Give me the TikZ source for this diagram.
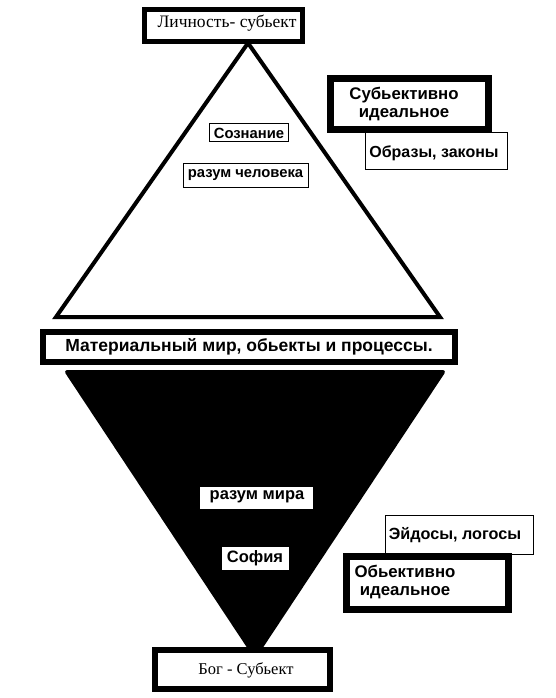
\documentclass[tikz,border=0pt]{standalone}
\usepackage{fontspec}
\setmainfont{Liberation Sans}
\newfontfamily\serifcyr{Liberation Serif}
\begin{document}
\begin{tikzpicture}[x=1pt,y=-1pt,
  thickbox/.style={draw, line width=#1, fill=white, inner sep=0pt},
  thickbox/.default=6pt,
  thinbox/.style={draw, line width=1pt, fill=white, inner sep=0pt},
  whitebox/.style={fill=white, inner sep=0pt},
  lbl/.style={font=\bfseries\fontsize{#1}{#1}\selectfont, align=center, inner sep=0pt},
  lbl/.default=15,
  serlbl/.style={font=\serifcyr\fontsize{#1}{#1}\selectfont, inner sep=0pt},
  serlbl/.default=16.5]
\useasboundingbox (0,0) rectangle (555,698);
% triangle corners
\coordinate (ta) at (248,43);
\coordinate (tl) at (56,317);
\coordinate (tr) at (440,317);
\coordinate (bl) at (67,372);
\coordinate (br) at (443,372);
\coordinate (ba) at (255,656);
% upper (white) triangle
\draw[line width=4pt, line join=miter] (ta) -- (tr) -- (tl) -- cycle;
% lower (black) triangle
\filldraw[line width=4pt, line join=round] (bl) -- (br) -- (ba) -- cycle;
% top box
\node[thickbox=5pt, minimum width=158pt, minimum height=32pt] (top) at (223.5,25.5) {};
\node[serlbl=17.5] (toptxt) at (227,23) {Личность- субьект};
% material box
\node[thickbox, minimum width=412pt, minimum height=30pt] (mat) at (249,347) {};
\node[lbl=17.5] (mattxt) at (249,347) {Материальный мир, обьекты и процессы.};
% bottom box
\node[thickbox, minimum width=175pt, minimum height=39pt] (bog) at (242.5,669.5) {};
\node[serlbl] (bogtxt) at (246,670) {Бог - Субьект};
% upper-triangle labels
\node[thinbox, minimum width=79pt, minimum height=18pt] (soz) at (249,132.5) {};
\node[lbl=14.8] (soztxt) at (249,133) {Сознание};
\node[thinbox, minimum width=125pt, minimum height=24pt] (rch) at (245.5,175) {};
\node[lbl=14.8] (rchtxt) at (245.5,175) {разум человека};
% right upper boxes
\node[thinbox, minimum width=142pt, minimum height=37pt] (obr) at (436.5,151) {};
\node[lbl=16] (obrtxt) at (434,153) {Образы, законы};
\node[thickbox=7pt, minimum width=158pt, minimum height=51pt] (subj) at (409.5,104) {};
\node[lbl=16.8] (subjtxt) at (404,104) {Субьективно\\[2pt]идеальное};
% lower-triangle labels
\node[whitebox, minimum width=113pt, minimum height=22pt] (rm) at (256.5,498) {};
\node[lbl=16.5] (rmtxt) at (257,497) {разум мира};
\node[whitebox, minimum width=67pt, minimum height=23pt] (sof) at (255.5,558.5) {};
\node[lbl=16.5] (softxt) at (255,558) {София};
% right lower boxes
\node[thinbox, minimum width=148pt, minimum height=39pt] (eid) at (459.5,535) {};
\node[lbl=16.2] (eidtxt) at (455,535) {Эйдосы, логосы};
\node[thickbox=7pt, minimum width=162pt, minimum height=53pt] (obj) at (427.5,583) {};
\node[lbl=16.8] (objtxt) at (405,582) {Обьективно\\[2pt]идеальное};
\end{tikzpicture}
\end{document}
